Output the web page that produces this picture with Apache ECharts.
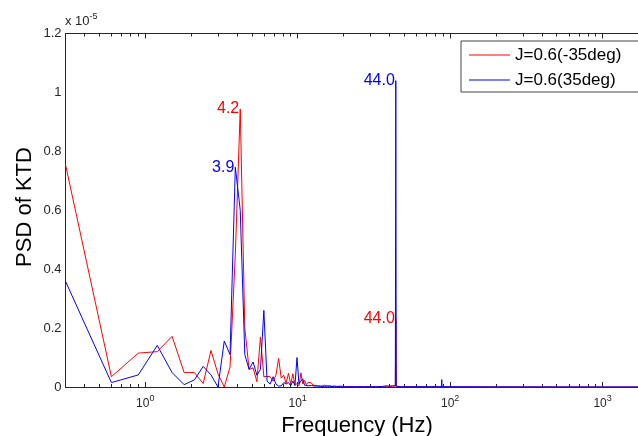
<!DOCTYPE html>
<html><head><meta charset="utf-8">
<script src="https://cdn.jsdelivr.net/npm/echarts@6/dist/echarts.min.js"></script>
<style>html,body{margin:0;padding:0;background:#fff}#c{width:638px;height:436px}</style>
</head><body><div id="c"></div>
<script>
// Frequency (Hz)
const freq = [0.3,0.6,0.9,1.2,1.5,1.8,2.1,2.4,2.7,3.0,3.3,3.6,3.9,4.2,4.5,4.8,5.1,5.4,5.7,6.0,6.3,6.6,6.9,7.2,7.5,7.8,8.1,8.4,8.7,9.0,9.3,9.6,9.9,10.2,10.5,10.8,11.1,11.4,11.7,12.0,
  12.3,12.6,12.9,13.2,13.5,13.8,14.1,14.4,
  15.0,15.6,16.2,16.8,17.4,18.0,19.2,20.4,
  22,24,27,30,33,36,
  38,39,40,41,42,
  43.7,44.0,44.3,
  47,55,70,85,
  87.8,88.1,88.4,
  92,120,200,500,1000,2000];
// PSD (x 1e-5), J=0.6(-35deg)
const psdNeg35 = [0.755,0.035,0.115,0.12,0.172,0.049,0.049,0.012,0.124,0.045, 0.0,0.068,0.45,0.944,0.2,0.06,0.065,0.018,0.17,0.035, 0.036,0.035,0.02,0.04,0.097,0.03,0.04,0.012,0.047,0.01, 0.045,0.005,0.012,0.004,0.048,0.01,0.022,0.008,0.016,0.01,
  0.014,0.006,0.012,0.005,0.009,0.004,0.008,0.003,
  0.006,0.003,0.005,0.002,0.004,0.002,0.003,0.001,
  0.002,0.001,0.001,0.0015,0.001,0.001,
  0.001,0.002,0.001,0.001,0.002,
  0.003,0.232,0.002,
  0.001,0.001,0.0005,0.001,
  0.001,0.004,0.001,
  0.0005,0.0004,0.0003,0.0002,0.0001,0.0001];
// PSD (x 1e-5), J=0.6(35deg)
const psd35 = [0.359,0.015,0.041,0.141,0.049,0.008,0.024,0.07,0.041,0.0, 0.156,0.11,0.746,0.6,0.11,0.06,0.085,0.04,0.06,0.26, 0.02,0.01,0.035,0.01,0.003,0.004,0.015,0.01,0.015,0.004, 0.02,0.006,0.1,0.01,0.02,0.028,0.006,0.012,0.004,0.008,
  0.005,0.009,0.003,0.007,0.003,0.005,0.002,0.004,
  0.002,0.003,0.002,0.002,0.001,0.002,0.001,0.001,
  0.001,0.001,0.001,0.001,0.001,0.002,
  0.004,0.008,0.003,0.007,0.004,
  0.004,1.04,0.003,
  0.001,0.001,0.001,0.001,
  0.002,0.025,0.002,
  0.001,0.0008,0.0005,0.0003,0.0002,0.0001];
const peaksNeg35 = [4.2, 44.0];
const peaks35 = [3.9, 44.0];
const seriesNames = ['J=0.6(-35deg)', 'J=0.6(35deg)'];
const majorTicks = [1, 10, 100, 1000];
const minorTicks = [0.3,0.4,0.5,0.6,0.7,0.8,0.9,2,3,4,5,6,7,8,9,20,30,40,50,60,70,80,90,200,300,400,500,600,700,800,900];

const FONT = 'Liberation Sans, Arial, sans-serif';
const AX = '#262626';
const chart = echarts.init(document.getElementById('c'), null, {renderer: 'canvas'});

function mkX(pos, ticks, len, showLine, showLabel, extra) {
  return Object.assign({
    type: 'log', logBase: 10, gridIndex: 0, position: pos, min: 0.3, max: 2000,
    axisLine: {show: showLine, onZero: false, lineStyle: {color: AX, width: 1}},
    axisTick: {show: true, inside: true, length: len, customValues: ticks, lineStyle: {color: AX, width: 1}},
    axisLabel: {show: false},
    splitLine: {show: false}, minorTick: {show: false}, minorSplitLine: {show: false}
  }, extra || {});
}

function peakMarks(peaks, vals, color) {
  return {
    symbol: 'circle', symbolSize: 0, silent: true,
    label: {show: true, position: 'left', distance: 1, color: color, fontSize: 16, fontFamily: FONT,
      formatter: p => Number(p.value).toFixed(1)},
    data: peaks.map(p => ({coord: [p, vals[freq.indexOf(p)]], value: p}))
  };
}

const option = {
  animation: false,
  textStyle: {fontFamily: FONT},
  grid: {left: 65.5, top: 33.5, width: 583, height: 353.5, containLabel: false, outerBoundsMode: 'none'},
  legend: {
    orient: 'vertical', left: 461, top: 41, data: seriesNames,
    icon: 'path://M0,0 L41,0 L41,1 L0,1 Z',
    backgroundColor: '#fff', borderColor: '#444', borderWidth: 1,
    padding: [4, 30, 2, 8], itemWidth: 41, itemHeight: 14, itemGap: 5,
    textStyle: {fontSize: 17, color: '#000', fontFamily: FONT, lineHeight: 20}
  },
  graphic: [{
    type: 'text', left: 65, top: 12,
    style: {text: '{b|x 10}{s|-5}', rich: {
      b: {fontSize: 13, lineHeight: 16, verticalAlign: 'bottom', fill: AX, fontFamily: FONT},
      s: {fontSize: 9, lineHeight: 16, verticalAlign: 'top', fill: AX, fontFamily: FONT}
    }}
  }, {
    type: 'text', x: 25, y: 207, rotation: Math.PI / 2,
    style: {text: 'PSD of KTD', fontSize: 22, fill: '#000', fontFamily: FONT, align: 'center', verticalAlign: 'middle'}
  }],
  xAxis: [
    mkX('bottom', majorTicks, 5, true, true, {
      axisLabel: {show: true, customValues: majorTicks, margin: 7,
        formatter: v => '{b|10}{s|' + Math.round(Math.log10(v)) + '}',
        rich: {
          b: {fontSize: 12, lineHeight: 16, verticalAlign: 'bottom', color: AX, fontFamily: FONT},
          s: {fontSize: 9, lineHeight: 16, verticalAlign: 'top', color: AX, fontFamily: FONT}
        }},
      name: 'Frequency (Hz)', nameLocation: 'middle', nameGap: 24,
      nameTextStyle: {fontSize: 22, color: '#000', fontFamily: FONT, verticalAlign: 'top'}
    }),
    mkX('bottom', minorTicks, 3, false, false),
    mkX('top', majorTicks, 5, true, false),
    mkX('top', minorTicks, 3, false, false)
  ],
  yAxis: [{
    type: 'value', min: 0, max: 1.2, interval: 0.2,
    axisLine: {show: true, lineStyle: {color: AX, width: 1}},
    axisTick: {show: false},
    axisLabel: {fontSize: 13, color: AX, margin: 4, fontFamily: FONT},
    splitLine: {show: false}
  }],
  series: [
    {
      name: seriesNames[0], type: 'line', xAxisIndex: 0, yAxisIndex: 0,
      data: freq.map((f, i) => [f, psdNeg35[i]]),
      symbol: 'none', showSymbol: false, color: '#ff0000',
      lineStyle: {width: 1, color: '#ff0000'},
      markPoint: peakMarks(peaksNeg35, psdNeg35, '#ff0000')
    },
    {
      name: seriesNames[1], type: 'line', xAxisIndex: 0, yAxisIndex: 0,
      data: freq.map((f, i) => [f, psd35[i]]),
      symbol: 'none', showSymbol: false, color: '#0000ff',
      lineStyle: {width: 1, color: '#0000ff'},
      markPoint: peakMarks(peaks35, psd35, '#0000ff')
    }
  ]
};
chart.setOption(option);
</script>
</body></html>
